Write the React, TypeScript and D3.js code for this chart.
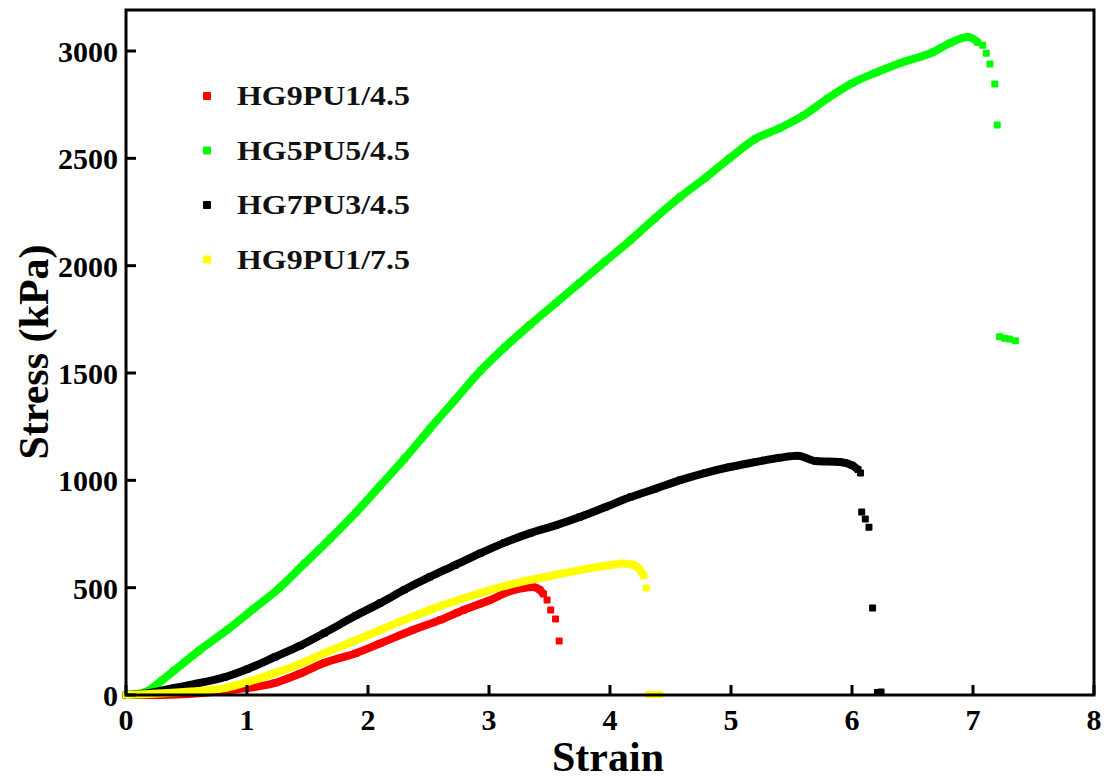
import * as d3 from "d3";

// strain / stress (kPa)
const redStrain = [0, 0.3, 0.6, 0.9, 1.23, 1.44, 1.64, 1.9, 2.1, 2.37, 2.6, 2.79, 3.0, 3.2, 3.3, 3.36, 3.42, 3.45];
const redStress = [0, 0, 8, 25, 56, 100, 150, 195, 240, 303, 350, 396, 440, 489, 500, 503, 490, 470];
const redTailStrain = [3.48, 3.51, 3.55, 3.58];
const redTailStress = [442, 396, 354, 252];

const greenStrain = [0, 0.16, 0.3, 0.4, 0.6, 0.84, 1.05, 1.27, 1.48, 1.69, 1.9, 2.1, 2.3, 2.51, 2.72, 2.93, 3.13, 3.34, 3.55, 3.75, 3.96, 4.17, 4.37, 4.58, 4.79, 4.99, 5.2, 5.4, 5.6, 5.8, 6.0, 6.2, 6.4, 6.67, 6.81, 6.96, 7.04];
const greenStress = [0, 14, 70, 115, 205, 305, 400, 500, 615, 730, 850, 975, 1100, 1240, 1375, 1510, 1620, 1725, 1825, 1920, 2020, 2119, 2220, 2320, 2410, 2501, 2590, 2640, 2700, 2780, 2850, 2900, 2944, 2995, 3037, 3065, 3040];
const greenTailStrain = [7.08, 7.11, 7.14, 7.18, 7.2, 7.22, 7.26, 7.3, 7.35];
const greenTailStress = [3027, 2990, 2940, 2846, 2655, 1669, 1662, 1658, 1650];

const blackStrain = [0, 0.2, 0.4, 0.6, 0.82, 1.0, 1.23, 1.44, 1.64, 1.9, 2.1, 2.3, 2.51, 2.72, 2.93, 3.13, 3.34, 3.55, 3.75, 3.96, 4.17, 4.37, 4.58, 4.79, 4.99, 5.2, 5.4, 5.55, 5.7, 5.9, 6.0, 6.05];
const blackStress = [0, 10, 33, 55, 84, 120, 177, 230, 289, 370, 428, 490, 550, 605, 661, 710, 754, 790, 829, 875, 922, 960, 1001, 1035, 1062, 1085, 1105, 1115, 1090, 1085, 1070, 1050];
const blackTailStrain = [6.07, 6.08, 6.11, 6.14, 6.17, 6.21, 6.24];
const blackTailStress = [1034, 852, 820, 782, 405, 12, 14];

const yellowStrain = [0, 0.2, 0.5, 0.82, 1.0, 1.23, 1.44, 1.64, 1.9, 2.1, 2.3, 2.51, 2.72, 2.93, 3.13, 3.34, 3.55, 3.75, 3.9, 4.0, 4.11, 4.2, 4.25, 4.28];
const yellowStress = [0, 5, 15, 33, 60, 102, 145, 195, 255, 303, 350, 396, 438, 475, 508, 536, 560, 582, 597, 605, 613, 605, 582, 555];
const yellowTailStrain = [4.3, 4.32, 4.35, 4.38, 4.41];
const yellowTailStress = [498, 2, 2, 2, 2];

const seriesNames = ["HG9PU1/4.5", "HG5PU5/4.5", "HG7PU3/4.5", "HG9PU1/7.5"];
const seriesColors = ["#ff0000", "#00ff00", "#000000", "#ffff00"];
const xTicks = [0, 1, 2, 3, 4, 5, 6, 7, 8];
const yTicks = [0, 500, 1000, 1500, 2000, 2500, 3000];

const FONT = "'Liberation Serif', 'Times New Roman', serif";

const zip = (a: number[], b: number[]) => a.map((v, i) => [v, b[i]] as [number, number]);

const App = () => {
  const width = 1113;
  const height = 781;
  const left = 126,
    right = 1094,
    top = 10,
    bottom = 695;

  const x = d3.scaleLinear([0, 8], [left, right]);
  const y = d3.scaleLinear([0, 3000], [bottom, 51]);

  const line = d3
    .line<[number, number]>()
    .x((d) => x(d[0]))
    .y((d) => y(d[1]))
    .curve(d3.curveMonotoneX);

  const series = [
    { main: zip(redStrain, redStress), tail: zip(redTailStrain, redTailStress) },
    { main: zip(greenStrain, greenStress), tail: zip(greenTailStrain, greenTailStress) },
    { main: zip(blackStrain, blackStress), tail: zip(blackTailStrain, blackTailStress) },
    { main: zip(yellowStrain, yellowStress), tail: zip(yellowTailStrain, yellowTailStress) },
  ];

  const sq = 7;

  return (
    <svg
      width={width}
      height={height}
      style={{ position: "absolute", left: 0, top: 0, background: "white" }}
    >
      {series.map((s, i) => (
        <g key={i} fill={seriesColors[i]}>
          <path
            d={line(s.main) as string}
            fill="none"
            stroke={seriesColors[i]}
            strokeWidth={sq + 1}
            strokeLinejoin="round"
          />
          {s.main.concat(s.tail).map((d, j) => (
            <rect
              key={j}
              x={x(d[0]) - sq / 2}
              y={y(d[1]) - sq / 2}
              width={sq}
              height={sq}
              rx={1}
            />
          ))}
        </g>
      ))}

      {/* frame */}
      <rect
        x={left}
        y={top}
        width={right - left}
        height={bottom - top}
        fill="none"
        stroke="#000"
        strokeWidth={3}
      />

      {/* ticks */}
      <g fontFamily={FONT} fontWeight="bold" fontSize={30} fill="#000">
        {xTicks.map((t) => (
          <g key={t}>
            <line x1={x(t)} x2={x(t)} y1={bottom} y2={bottom - 10} stroke="#000" strokeWidth={3} />
            <text x={x(t)} y={bottom + 35} textAnchor="middle">
              {t}
            </text>
          </g>
        ))}
        {yTicks.map((t) => (
          <g key={t}>
            <line x1={left} x2={left + 10} y1={y(t)} y2={y(t)} stroke="#000" strokeWidth={3} />
            <text x={left - 8} y={y(t) + 11} textAnchor="end">
              {t}
            </text>
          </g>
        ))}
      </g>

      {/* axis titles */}
      <text
        x={608}
        y={771}
        textAnchor="middle"
        fontFamily={FONT}
        fontWeight="bold"
        fontSize={42}
      >
        Strain
      </text>
      <text
        transform="translate(48,352) rotate(-90)"
        textAnchor="middle"
        fontFamily={FONT}
        fontWeight="bold"
        fontSize={42}
      >
        Stress (kPa)
      </text>

      {/* legend */}
      {seriesNames.map((name, i) => {
        const ly = 96 + i * 54.5;
        return (
          <g key={name}>
            <rect x={207 - 4} y={ly - 4} width={8} height={8} rx={1} fill={seriesColors[i]} />
            <text
              x={237}
              y={ly + 9}
              fontFamily={FONT}
              fontWeight="bold"
              fontSize={27}
              textLength={173}
              lengthAdjust="spacingAndGlyphs"
              fill="#111"
            >
              {name}
            </text>
          </g>
        );
      })}
    </svg>
  );
};

export default App;
